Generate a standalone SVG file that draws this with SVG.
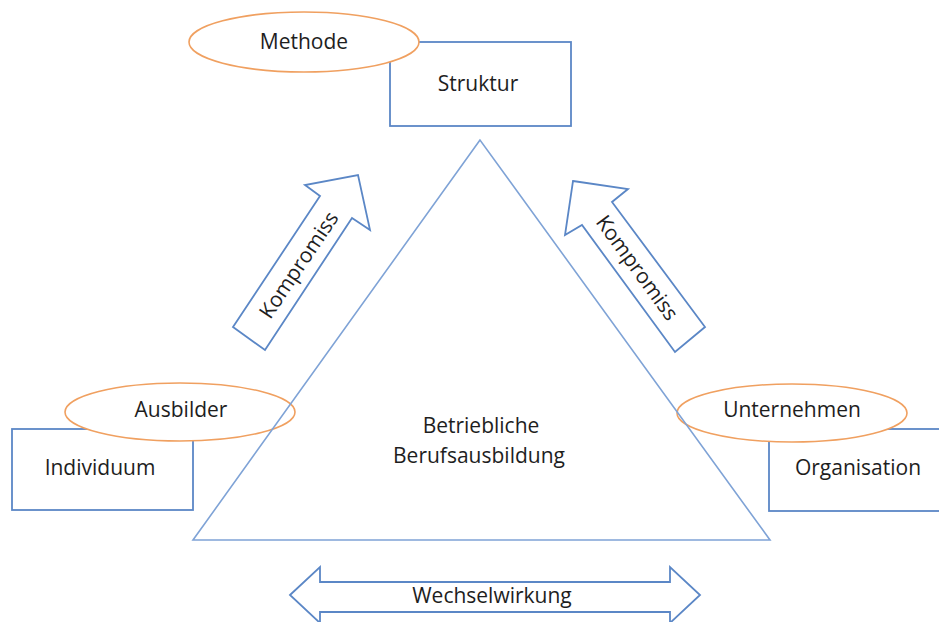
<svg xmlns="http://www.w3.org/2000/svg" width="939" height="622" viewBox="0 0 939 622">
<style>
.box{fill:#fff;stroke:#5b87c6;stroke-width:1.8}
.ell{fill:#fff;stroke:#f0a060;stroke-width:1.6}
.arr{fill:#fff;stroke:#5b87c6;stroke-width:1.8;stroke-linejoin:miter}
.tri{fill:none;stroke:#7fa3d6;stroke-width:1.6}
text{font-family:"Open Sans","Noto Sans","DejaVu Sans",sans-serif;font-size:21px;fill:#1e1e1e;text-anchor:middle}
</style>
<rect width="939" height="622" fill="#fff"/>
<g id="struktur">
<rect class="box" x="390" y="42" width="181" height="84"/>
<text x="478" y="91">Struktur</text>
</g>
<g id="methode">
<ellipse class="ell" cx="304" cy="42" rx="115" ry="30"/>
<text x="304" y="49">Methode</text>
</g>
<g id="individuum">
<rect class="box" x="12" y="429" width="181" height="81"/>
<text x="100" y="475">Individuum</text>
</g>
<g id="ausbilder">
<ellipse class="ell" cx="180" cy="412" rx="115" ry="29"/>
<text x="181" y="417">Ausbilder</text>
</g>
<g id="organisation">
<rect class="box" x="769" y="429" width="181" height="82"/>
<text x="858" y="475">Organisation</text>
</g>
<g id="unternehmen">
<ellipse class="ell" cx="792" cy="413" rx="115" ry="29"/>
<text x="792" y="417">Unternehmen</text>
</g>
<g id="berufsausbildung">
<polygon class="tri" points="480,140 193,540 770,540"/>
<text x="481" y="433">Betriebliche</text>
<text x="479" y="463">Berufsausbildung</text>
</g>
<g id="connectors">
<g id="kompromiss-links">
<polygon class="arr" points="233,327 320,196 305,185 358,175 370,230 352,218 265,350"/>
<text transform="translate(299,265) rotate(-56)" y="7">Kompromiss</text>
</g>
<g id="kompromiss-rechts">
<polygon class="arr" points="573,181 628,189 612,202 705,327 675,352 582,225 565,235"/>
<text transform="translate(637,268) rotate(54)" y="7">Kompromiss</text>
</g>
<g id="wechselwirkung">
<polygon class="arr" points="290,595 320,567 320,582 670,582 670,567 700,595 670,623 670,612 320,612 320,623"/>
<text x="492" y="603">Wechselwirkung</text>
</g>
</g>
</svg>
